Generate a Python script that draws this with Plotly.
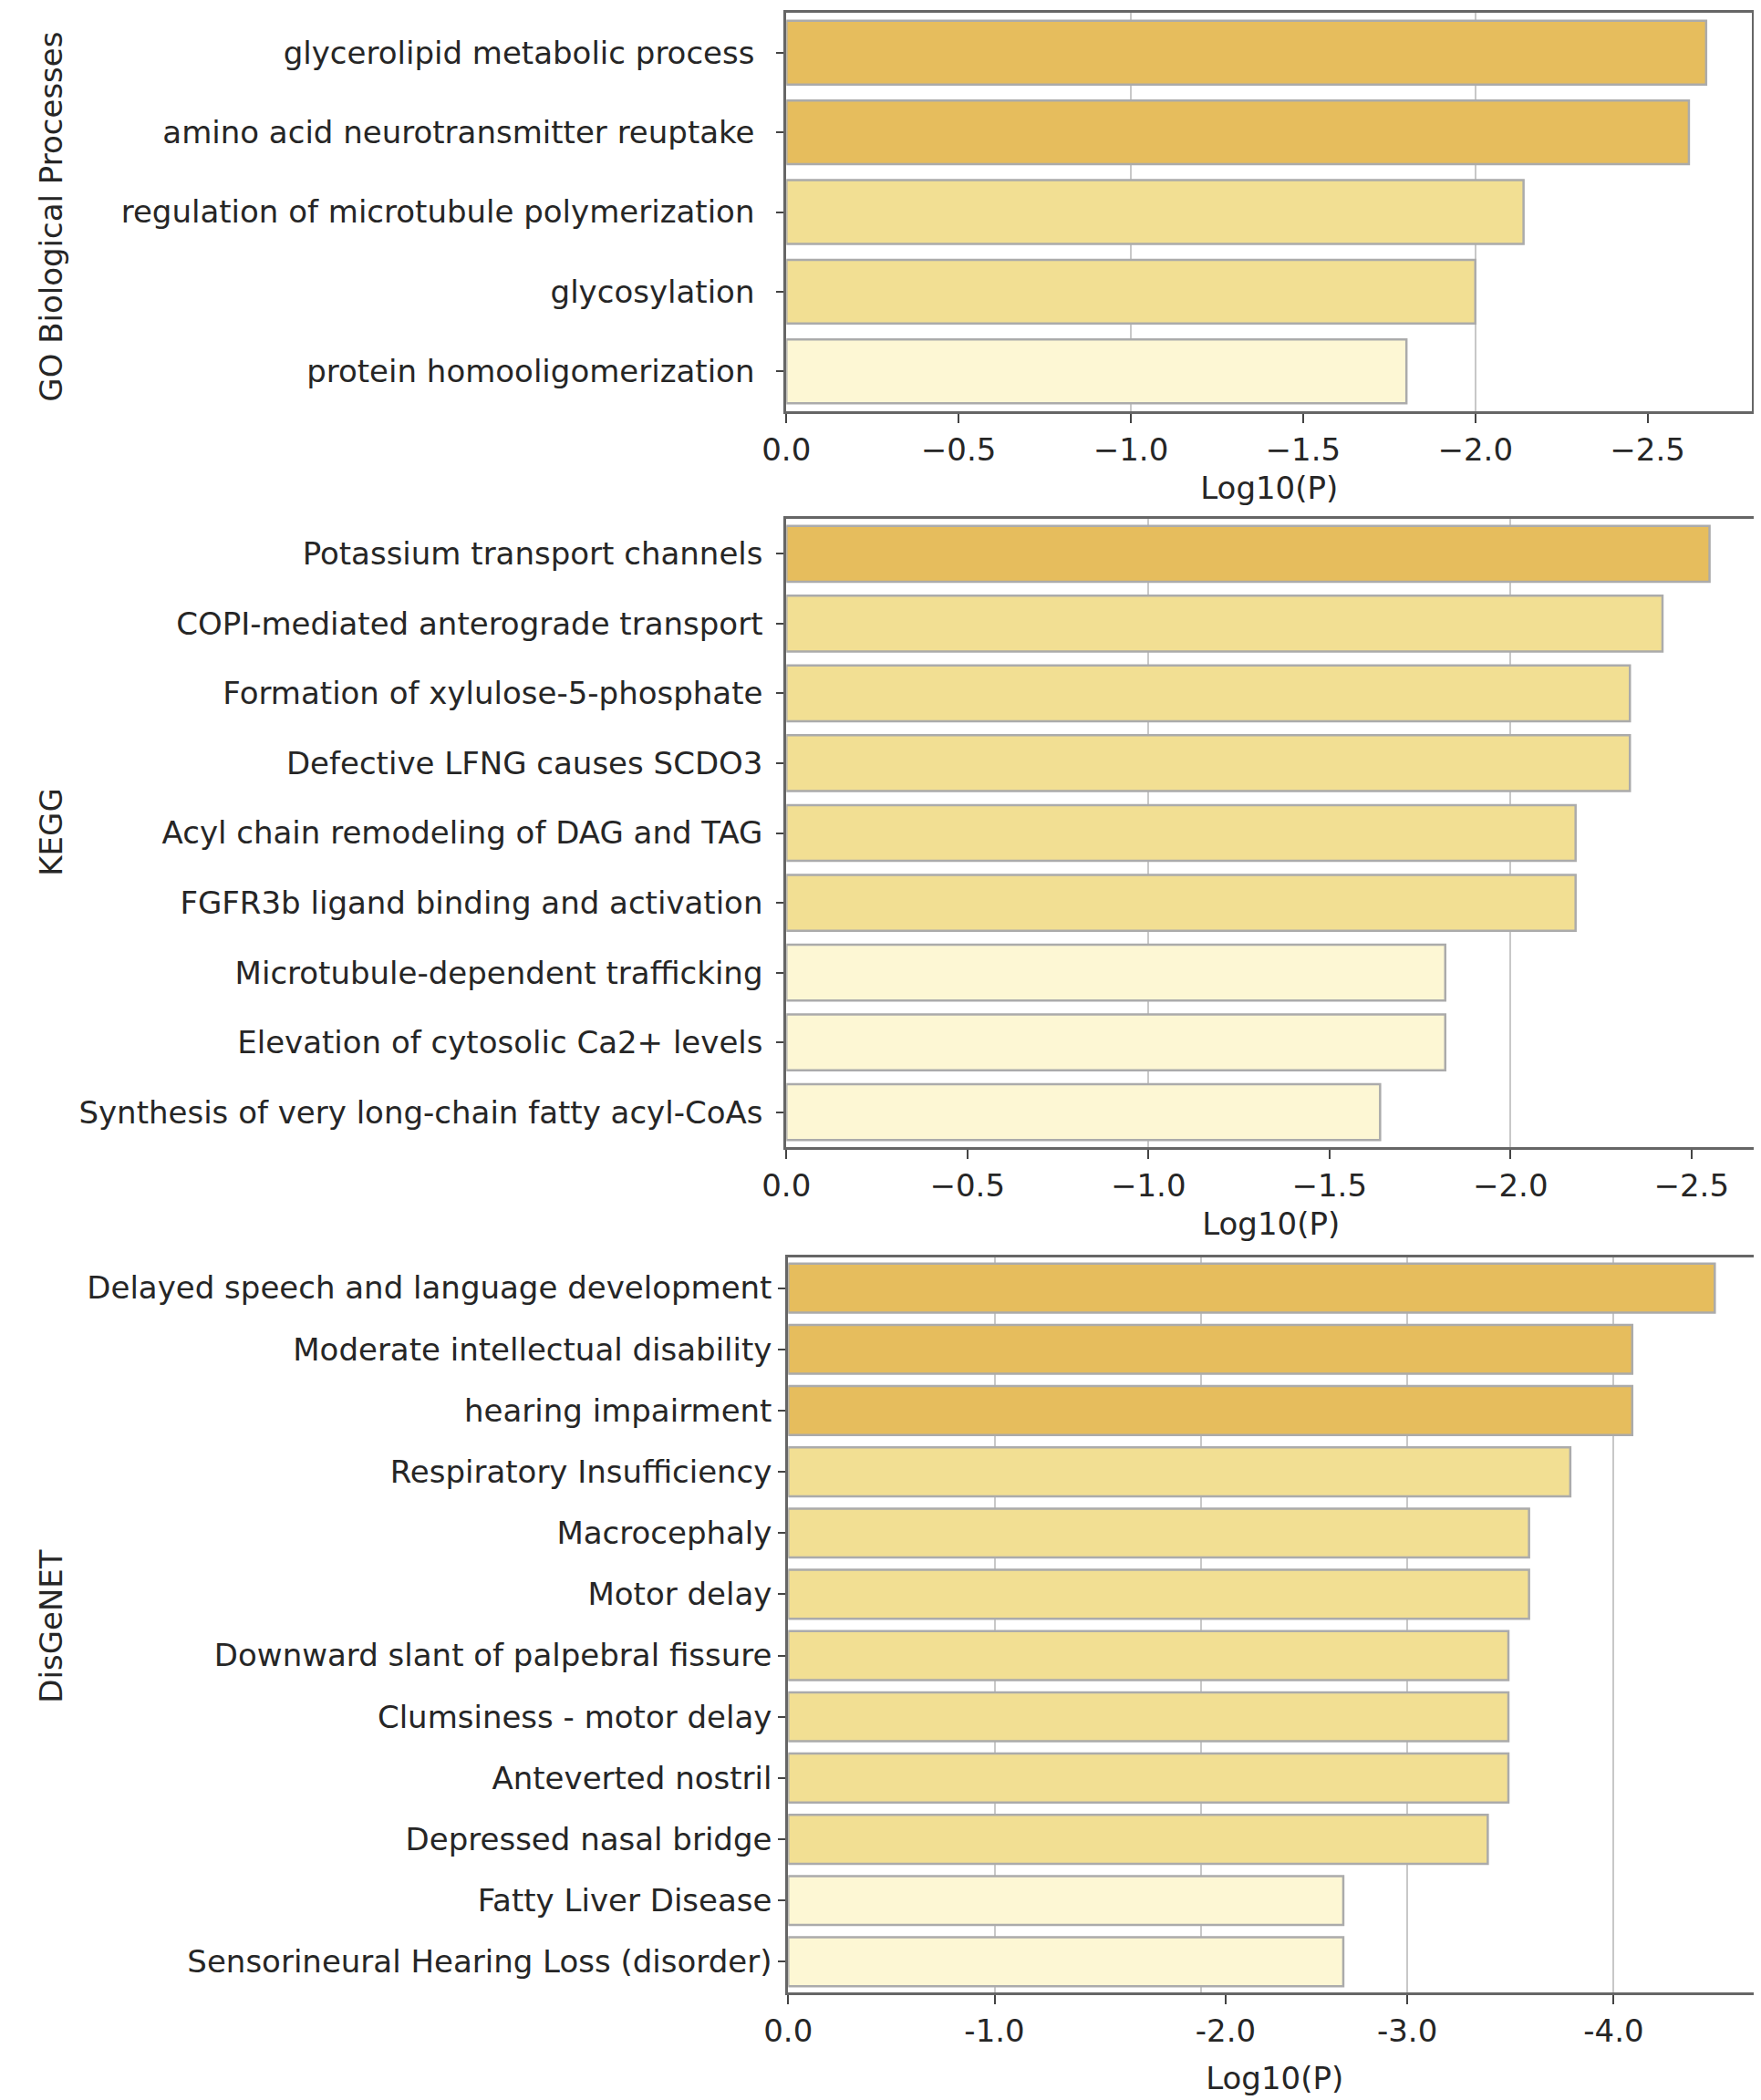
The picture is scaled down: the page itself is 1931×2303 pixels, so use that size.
import plotly.graph_objects as go

# GO Biological Processes
GO_TERMS = [
    "glycerolipid metabolic process",
    "amino acid neurotransmitter reuptake",
    "regulation of microtubule polymerization",
    "glycosylation",
    "protein homooligomerization",
]
GO_LOGP = [-2.67, -2.62, -2.14, -2.00, -1.80]
GO_TIER = [2, 2, 1, 1, 0]

# KEGG
KEGG_TERMS = [
    "Potassium transport channels",
    "COPI-mediated anterograde transport",
    "Formation of xylulose-5-phosphate",
    "Defective LFNG causes SCDO3",
    "Acyl chain remodeling of DAG and TAG",
    "FGFR3b ligand binding and activation",
    "Microtubule-dependent trafficking",
    "Elevation of cytosolic Ca2+ levels",
    "Synthesis of very long-chain fatty acyl-CoAs",
]
KEGG_LOGP = [-2.55, -2.42, -2.33, -2.33, -2.18, -2.18, -1.82, -1.82, -1.64]
KEGG_TIER = [2, 1, 1, 1, 1, 1, 0, 0, 0]

# DisGeNET
DIS_TERMS = [
    "Delayed speech and language development",
    "Moderate intellectual disability",
    "hearing impairment",
    "Respiratory Insufficiency",
    "Macrocephaly",
    "Motor delay",
    "Downward slant of palpebral fissure",
    "Clumsiness - motor delay",
    "Anteverted nostril",
    "Depressed nasal bridge",
    "Fatty Liver Disease",
    "Sensorineural Hearing Loss (disorder)",
]
DIS_LOGP = [-4.49, -4.09, -4.09, -3.79, -3.59, -3.59, -3.49, -3.49, -3.49, -3.39, -2.69, -2.69]
DIS_TIER = [2, 2, 2, 1, 1, 1, 1, 1, 1, 1, 0, 0]

# tick labels
GO_TICKS = [0, -0.5, -1.0, -1.5, -2.0, -2.5]
KEGG_TICKS = [0, -0.5, -1.0, -1.5, -2.0, -2.5]
DIS_TICKS = [0, -1.0, -2.12, -3.0, -4.0]
DIS_TICKTEXT = ["0.0", "-1.0", "-2.0", "-3.0", "-4.0"]

PALETTE = ["#fdf7d4", "#f2df93", "#e6bd5d"]
FONT = "DejaVu Sans"
TXT = "#262626"
FS = 34

W, H = 1931, 2303

panels = [
    dict(name="GO Biological Processes", terms=GO_TERMS, vals=GO_LOGP, tier=GO_TIER,
         ticks=GO_TICKS, ticktext=None, grid=[-1, -2],
         px=(839, 1913), py=(6, 443), ystand=17, xtitle=12, title_y=230),
    dict(name="KEGG", terms=KEGG_TERMS, vals=KEGG_LOGP, tier=KEGG_TIER,
         ticks=KEGG_TICKS, ticktext=None, grid=[-1, -2],
         px=(839, 1917), py=(561, 1250), ystand=8, xtitle=12, title_y=905),
    dict(name="DisGeNET", terms=DIS_TERMS, vals=DIS_LOGP, tier=DIS_TIER,
         ticks=DIS_TICKS, ticktext=DIS_TICKTEXT, grid=[-1, -2, -3, -4],
         px=(841, 1923), py=(1371, 2177), ystand=0, xtitle=22, title_y=1775),
]

fig = go.Figure()
layout = {}
annotations = []

for i, p in enumerate(panels):
    k = "" if i == 0 else str(i + 1)
    fig.add_trace(
        go.Bar(
            x=p["vals"],
            y=p["terms"],
            orientation="h",
            width=0.8,
            marker=dict(
                color=[PALETTE[t] for t in p["tier"]],
                line=dict(color="#ababab", width=2.5),
            ),
            xaxis="x" + k,
            yaxis="y" + k,
            showlegend=False,
        )
    )
    xmax = min(p["vals"]) * 1.05
    n = len(p["terms"])
    layout["xaxis" + k] = dict(
        domain=[p["px"][0] / W, p["px"][1] / W],
        anchor="y" + k,
        range=[0, xmax],
        tickvals=p["ticks"],
        ticktext=p["ticktext"] if p["ticktext"] else None,
        tickformat=".1f",
        ticks="outside",
        ticklen=10,
        tickwidth=2,
        tickcolor="#444",
        ticklabelstandoff=0,
        showgrid=False,
        zeroline=False,
        showline=True,
        mirror=True,
        linecolor="#666",
        linewidth=3,
        minor=dict(tickvals=p["grid"], showgrid=True, gridcolor="#c8c8c8",
                   gridwidth=2, ticks=""),
        title=dict(text="Log10(P)", standoff=p["xtitle"], font=dict(size=FS, color=TXT)),
        tickfont=dict(size=FS, color=TXT),
        fixedrange=True,
    )
    layout["yaxis" + k] = dict(
        domain=[1 - p["py"][1] / H, 1 - p["py"][0] / H],
        anchor="x" + k,
        type="category",
        range=[n - 0.5, -0.5],
        ticks="outside",
        ticklen=8,
        tickwidth=2,
        tickcolor="#444",
        ticklabelstandoff=p["ystand"],
        showgrid=False,
        zeroline=False,
        showline=True,
        mirror=True,
        linecolor="#666",
        linewidth=3,
        tickfont=dict(size=FS, color=TXT),
        fixedrange=True,
    )
    annotations.append(
        dict(
            text=p["name"],
            x=21 / W,
            y=1 - p["title_y"] / H,
            xref="paper",
            yref="paper",
            textangle=-90,
            showarrow=False,
            xanchor="center",
            yanchor="middle",
            font=dict(size=FS, color=TXT, family=FONT),
        )
    )

fig.update_layout(
    **layout,
    annotations=annotations,
    width=W,
    height=H,
    margin=dict(l=0, r=0, t=0, b=0),
    paper_bgcolor="white",
    plot_bgcolor="white",
    font=dict(family=FONT, color=TXT),
    bargap=0.2,
)

fig.write_html("out.html")
